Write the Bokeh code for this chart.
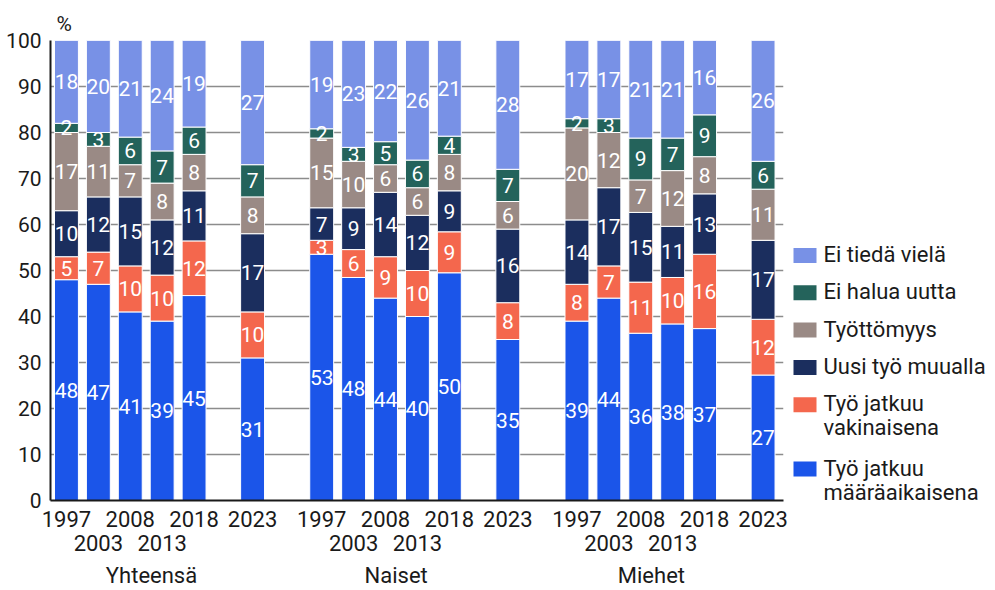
import numpy as np
from bokeh.plotting import figure
from bokeh.models import ColumnDataSource, Range1d, LinearAxis, FixedTicker
from bokeh.layouts import row
from bokeh.core.properties import value
from bokeh.embed import file_html
from bokeh.resources import INLINE

# ---------------- data ----------------
groups = ["Yhteensä", "Naiset", "Miehet"]
years = ["1997", "2003", "2008", "2013", "2018", "2023"]

series_names = ["Työ jatkuu\nmääräaikaisena", "Työ jatkuu\nvakinaisena",
                "Uusi työ muualla", "Työttömyys", "Ei halua uutta", "Ei tiedä vielä"]

# order: Yhteensä 1997..2023, Naiset 1997..2023, Miehet 1997..2023
maaraaikainen = [48, 47, 41, 39, 45, 31, 53, 48, 44, 40, 50, 35, 39, 44, 36, 38, 37, 27]
vakinainen    = [5, 7, 10, 10, 12, 10, 3, 6, 9, 10, 9, 8, 8, 7, 11, 10, 16, 12]
uusi_tyo      = [10, 12, 15, 12, 11, 17, 7, 9, 14, 12, 9, 16, 14, 17, 15, 11, 13, 17]
tyottomyys    = [17, 11, 7, 8, 8, 8, 15, 10, 6, 6, 8, 6, 20, 12, 7, 12, 8, 11]
ei_halua      = [2, 3, 6, 7, 6, 7, 2, 3, 5, 6, 4, 7, 2, 3, 9, 7, 9, 6]
ei_tieda      = [18, 20, 21, 24, 19, 27, 19, 23, 22, 26, 21, 28, 17, 17, 21, 21, 16, 26]

y_ticks = list(range(0, 101, 10))

colors = ["#1B55E9", "#F4674D", "#1B2E5E", "#9A8A85", "#24635B", "#7891E6"]

# ---------------- layout constants ----------------
FONT = "Roboto"
TEXT = "#1a1a1a"
W, H = 995, 590
MAIN_W = 791
year_slot = [0, 6, 12, 18, 24, 35]
group_offset = [0, 48, 96]
group_label_pos = [16, 62, 110]
BAR_W = 4.5

xs = [g + s for g in group_offset for s in year_slot]

series = [maaraaikainen, vakinainen, uusi_tyo, tyottomyys, ei_halua, ei_tieda]
totals = np.sum(np.array(series, dtype=float), axis=0)

p = figure(width=MAIN_W, height=H,
           x_range=Range1d(-3, 134.84), y_range=Range1d(0, 100),
           x_axis_type=None, output_backend="svg", toolbar_location=None,
           min_border_left=50, min_border_right=8, min_border_top=40,
           min_border_bottom=86)
p.frame_align = False
p.outline_line_color = None
p.background_fill_color = "white"
p.border_fill_color = "white"

# bars
bottom = np.zeros(len(xs))
label_sources = []
for vals, col in zip(series, colors):
    share = np.array(vals, dtype=float) / totals * 100
    top = bottom + share
    src = ColumnDataSource(dict(x=xs, bottom=bottom, top=top,
                                mid=(bottom + top) / 2,
                                label=[str(v) for v in vals]))
    p.vbar(x="x", width=BAR_W, bottom="bottom", top="top", source=src,
           fill_color=col, line_color="white", line_width=1)
    label_sources.append(src)
    bottom = top

for src in label_sources:
    p.text(x="x", y="mid", text="label", source=src, text_color="white",
           text_font=value(FONT), text_font_size="21px",
           text_align="center", text_baseline="middle")

# y axis + grid
yt = FixedTicker(ticks=y_ticks)
p.yaxis.ticker = yt
p.ygrid.ticker = yt
p.yaxis.axis_line_color = TEXT
p.yaxis.axis_line_width = 2
p.yaxis.major_tick_line_color = None
p.yaxis.minor_tick_line_color = None
p.yaxis.major_tick_out = 0
p.yaxis.major_tick_in = 0
p.yaxis.major_label_standoff = 9
p.yaxis.major_label_text_font = FONT
p.yaxis.major_label_text_font_size = "21px"
p.yaxis.major_label_text_color = TEXT
p.ygrid.grid_line_color = "#8c8c8c"
p.ygrid.grid_line_width = 1.5

# x axes (three stacked rows)
row1_idx = [0, 2, 4, 5]
row2_idx = [1, 3]
t1, o1, t2, o2 = [], {}, [], {}
for g in group_offset:
    for i in row1_idx:
        t1.append(g + year_slot[i]); o1[g + year_slot[i]] = years[i]
    for i in row2_idx:
        t2.append(g + year_slot[i]); o2[g + year_slot[i]] = years[i]
o3 = {pos: name for pos, name in zip(group_label_pos, groups)}


def make_axis(ticks, overrides, standoff, line=False):
    ax = LinearAxis(ticker=FixedTicker(ticks=ticks), major_label_overrides=overrides)
    ax.major_tick_line_color = None
    ax.minor_tick_line_color = None
    ax.major_tick_out = 0
    ax.major_tick_in = 0
    ax.major_label_standoff = standoff
    ax.major_label_text_font = FONT
    ax.major_label_text_font_size = "22px"
    ax.major_label_text_color = TEXT
    if line:
        ax.axis_line_color = TEXT
        ax.axis_line_width = 2
    else:
        ax.axis_line_color = None
    return ax


p.add_layout(make_axis(t1, o1, 10, line=True), "below")
p.add_layout(make_axis(t2, o2, 5), "below")
p.add_layout(make_axis(group_label_pos, o3, 9), "below")

# "%" title
p.title.text = "%"
p.title.text_font = FONT
p.title.text_font_size = "21px"
p.title.text_font_style = "normal"
p.title.text_color = TEXT
p.title.align = "left"
p.title.offset = 6
p.title.standoff = 10

# ---------------- legend figure ----------------
LW = W - MAIN_W
lf = figure(width=LW, height=H, x_range=Range1d(0, LW), y_range=Range1d(H, 0),
            x_axis_type=None, y_axis_type=None, output_backend="svg",
            toolbar_location=None, min_border=0)
lf.frame_align = False
lf.outline_line_color = None
lf.background_fill_color = "white"
lf.border_fill_color = "white"

LEG_Y0, LEG_STEP, LEG_LINE, LEG_EXTRA = 255, 37.3, 24, 27
sq_x, sq_y, sq_c = [], [], []
tx, ty, tt = [], [], []
extra = 0
for i, (name, col) in enumerate(zip(series_names[::-1], colors[::-1])):
    yc = LEG_Y0 + LEG_STEP * i + extra
    sq_x.append(13.5); sq_y.append(yc); sq_c.append(col)
    lines = name.split("\n")
    for j, ln in enumerate(lines):
        tx.append(32); ty.append(yc - 1 + j * LEG_LINE); tt.append(ln)
    extra += (len(lines) - 1) * LEG_EXTRA

lf.rect(x=sq_x, y=sq_y, width=23, height=15, fill_color=sq_c, line_color=None)
lf.text(x=tx, y=ty, text=tt, text_color=TEXT, text_font=value(FONT),
        text_font_size="22px", text_align="left", text_baseline="middle")

layout = row(p, lf)
open("out.html", "w").write(file_html(layout, INLINE))
